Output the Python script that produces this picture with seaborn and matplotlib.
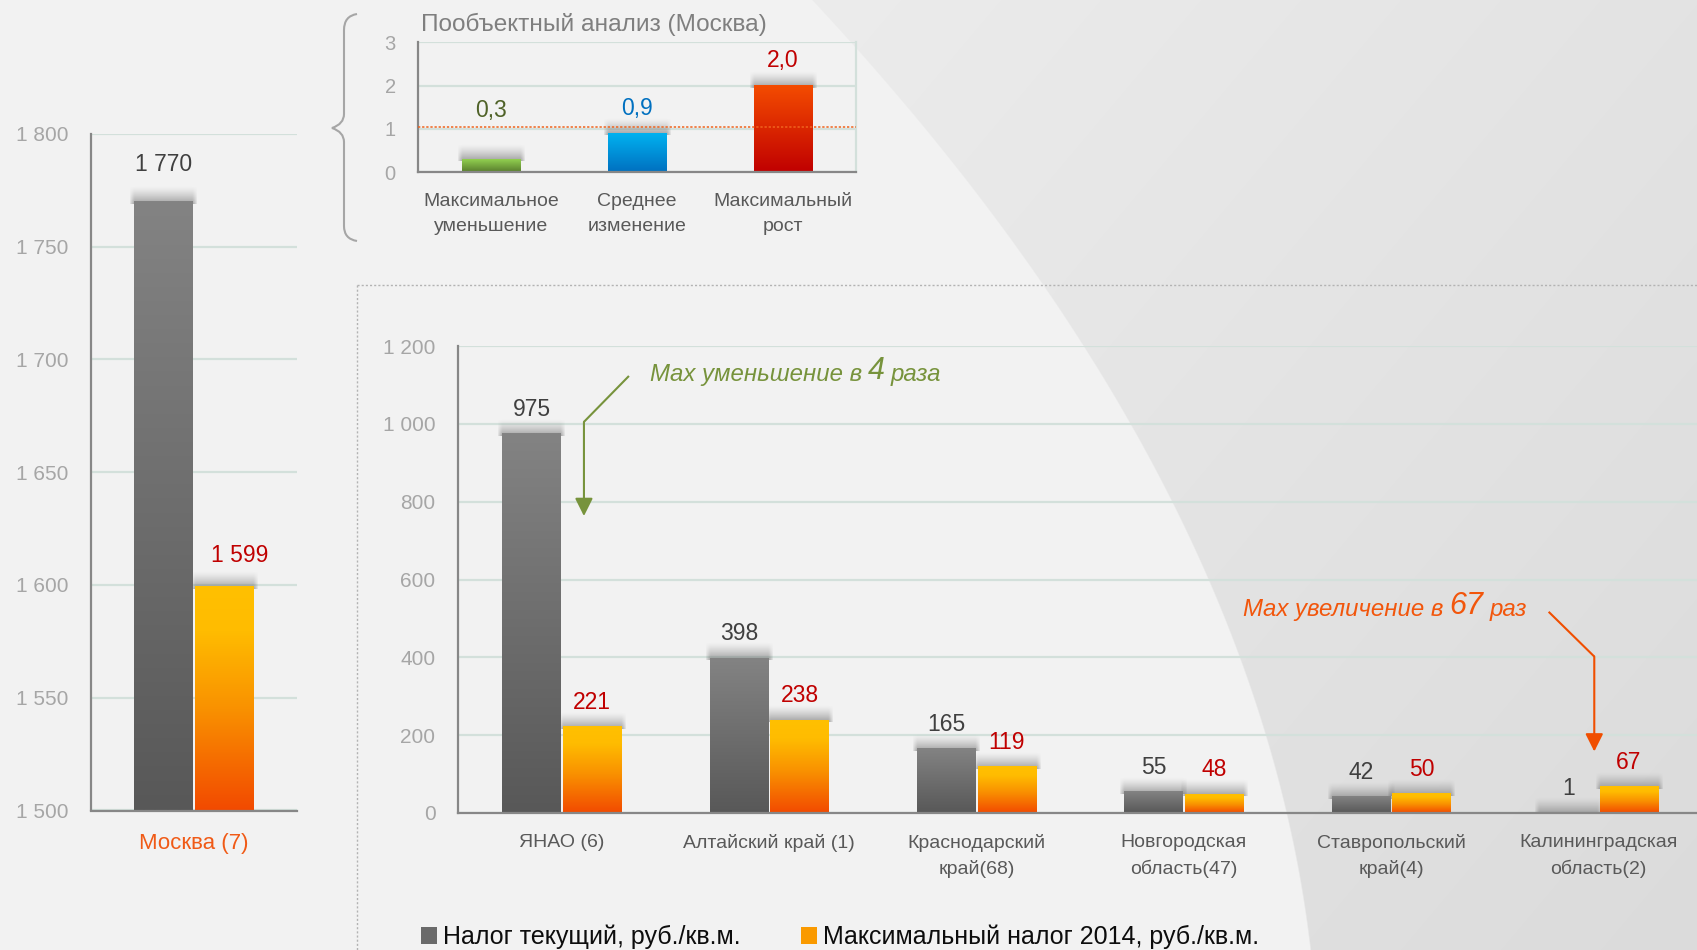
import numpy as np
import pandas as pd
import matplotlib
matplotlib.use("Agg")
import matplotlib.pyplot as plt
import seaborn as sns
from matplotlib.colors import LinearSegmentedColormap, to_rgb
from matplotlib.lines import Line2D
from matplotlib.patches import Patch, PathPatch
from matplotlib.path import Path
from matplotlib.ticker import FuncFormatter, MultipleLocator

# ---------------- data ----------------
series_names = ["Налог текущий, руб./кв.м.", "Максимальный налог 2014, руб./кв.м."]

moscow_category = ["Москва (7)"]
moscow_current = [1770]
moscow_max2014 = [1599]

regions = ["ЯНАО (6)", "Алтайский край (1)", "Краснодарский\nкрай(68)",
           "Новгородская\nобласть(47)", "Ставропольский\nкрай(4)",
           "Калининградская\nобласть(2)"]
region_current = [975, 398, 165, 55, 42, 1]
region_max2014 = [221, 238, 119, 48, 50, 67]

inset_title = "Пообъектный анализ (Москва)"
inset_categories = ["Максимальное\nуменьшение", "Среднее\nизменение", "Максимальный\nрост"]
inset_values = [0.3, 0.9, 2.0]
inset_reference = 1.03

note_decrease = ("Max уменьшение в", "4", "раза")
note_increase = ("Max увеличение в", "67", "раз")

# ---------------- style ----------------
sns.set_theme(style="white")
plt.rcParams["font.family"] = ["Liberation Sans", "DejaVu Sans"]

W, H, DPI = 1697, 950, 100
BG = "#f2f2f2"
SPINE = "#878787"
GRID = "#d3e0db"
TICKLAB = "#a6a6a6"
CATLAB = "#595959"
DARKLAB = "#404040"
REDLAB = "#c00000"
GREEN_NOTE = "#77933c"
ORANGE_NOTE = "#f2560c"

gray_cmap = LinearSegmentedColormap.from_list("g", [(0, "#585858"), (1, "#838383")])
orange_cmap = LinearSegmentedColormap.from_list(
    "o", [(0, "#f24a00"), (0.45, "#f99100"), (0.8, "#ffbc00"), (1, "#ffc000")])
green_cmap = LinearSegmentedColormap.from_list("gr", [(0, "#587d2d"), (1, "#92d050")])
blue_cmap = LinearSegmentedColormap.from_list("bl", [(0, "#0070c0"), (1, "#00b2f0")])
red_cmap = LinearSegmentedColormap.from_list("rd", [(0, "#c00000"), (1, "#f44c00")])

fig = plt.figure(figsize=(W / DPI, H / DPI), dpi=DPI)
fig.patch.set_facecolor(BG)


def fxp(px):
    return px / W


def fyp(py):
    return 1 - py / H


def rect(x0, y0, x1, y1):
    return [fxp(x0), fyp(y1), fxp(x1) - fxp(x0), fyp(y0) - fyp(y1)]


# ---------------- background ----------------
bg = fig.add_axes([0, 0, 1, 1], zorder=-5)
ys = np.arange(H)
coef = np.polyfit([0, 133, 285, 500, 813, 950], [817, 920, 1045, 1175, 1284, 1311], 2)
bx = np.polyval(coef, ys)
XX, YY = np.meshgrid(np.arange(W), ys)
mask = np.clip((XX - bx[:, None]) / 1.5 + 0.5, 0, 1)
t = np.clip(0.5 * YY / H + 0.5 * (XX - 900) / 800, 0, 1)
c_right = (1 - t)[..., None] * np.array(to_rgb("#ebebeb")) + t[..., None] * np.array(to_rgb("#dbdbdb"))
img = (1 - mask)[..., None] * np.array(to_rgb(BG)) + mask[..., None] * c_right
bg.imshow(img, aspect="auto", extent=[0, 1, 0, 1], interpolation="bilinear")
bg.set_axis_off()

# ---------------- helpers ----------------
def px_per_unit_y(ax):
    y0, y1 = ax.get_ylim()
    return ax.get_position().height * H / (y1 - y0)


def px_per_unit_x(ax):
    x0, x1 = ax.get_xlim()
    return ax.get_position().width * W / (x1 - x0)


def paint_bar(ax, p, cmap):
    x, w = p.get_x(), p.get_width()
    lo_lim, hi_lim = ax.get_ylim()
    lo = max(p.get_y(), lo_lim)
    hi = min(p.get_y() + p.get_height(), hi_lim)
    if hi <= lo:
        p.set_visible(False)
        return
    # soft shadow above the bar
    ky = px_per_unit_y(ax)
    kx = px_per_unit_x(ax)
    sh_h = 15 / ky
    pad = 5 / kx
    ny, nx = 40, 60
    fy_ = np.linspace(1, 0, ny) ** 1.3
    xs = np.linspace(0, 1, nx)
    fx_ = np.clip(np.minimum(xs, 1 - xs) * (w + 2 * pad) / pad, 0, 1) ** 0.8
    alpha = 0.6 * fy_[:, None] * fx_[None, :]
    rgba = np.zeros((ny, nx, 4))
    rgba[..., :3] = 0.42
    rgba[..., 3] = alpha
    ax.imshow(rgba, extent=[x - pad, x + w + pad, hi - 2 / ky, hi + sh_h],
              origin="lower", aspect="auto", zorder=1.5, interpolation="bilinear")
    grad = np.linspace(0, 1, 256).reshape(-1, 1)
    ax.imshow(grad, cmap=cmap, extent=[x, x + w, lo, hi], origin="lower",
              aspect="auto", zorder=2, interpolation="bilinear")
    p.set_visible(False)


def style_axes(ax, ylim, major):
    ax.set_facecolor("none")
    ax.set_ylim(*ylim)
    ax.yaxis.set_major_locator(MultipleLocator(major))
    ax.yaxis.grid(True, color=GRID, lw=1.6)
    ax.xaxis.grid(False)
    ax.set_axisbelow(True)
    for s in ["top", "right"]:
        ax.spines[s].set_visible(False)
    for s in ["left", "bottom"]:
        ax.spines[s].set_color(SPINE)
        ax.spines[s].set_linewidth(1.6)
        ax.spines[s].set_zorder(3)
    ax.set_xlabel("")
    ax.set_ylabel("")


def thousands(v, pos=None):
    return f"{int(round(v)):,}".replace(",", " ")


# ---------------- left chart: Moscow ----------------
ax_l = fig.add_axes(rect(90.7, 134, 296.5, 810.5))
df_l = pd.DataFrame({"cat": moscow_category * 2,
                     "series": [series_names[0]] * len(moscow_category) + [series_names[1]] * len(moscow_category),
                     "value": moscow_current + moscow_max2014})
sns.barplot(data=df_l, x="cat", y="value", hue="series", hue_order=series_names,
            order=moscow_category, palette=["#6e6e6e", "#fa9a00"], width=0.585, gap=0.03,
            saturation=1, legend=False, errorbar=None, ax=ax_l, linewidth=0)
style_axes(ax_l, (1500, 1800), 50)
ax_l.set_xlim(-0.5, len(moscow_category) - 0.5)
ax_l.yaxis.set_major_formatter(FuncFormatter(thousands))
ax_l.tick_params(axis="y", length=5, width=1.5, color=SPINE, labelsize=15, labelcolor=TICKLAB, pad=11)
ax_l.set_xticks(np.arange(-0.5, len(moscow_category)), labels=[""] * (len(moscow_category) + 1))
ax_l.set_xticks(np.arange(len(moscow_category)), labels=moscow_category, minor=True)
ax_l.tick_params(axis="x", which="major", length=5, width=1.5, color=SPINE, direction="out")
ax_l.tick_params(axis="x", which="minor", length=0, pad=16, labelsize=16, labelcolor="#f05a16")
left_offsets = [(0, 31), (16, 25)]
for p in list(ax_l.patches):
    xc = p.get_x() + p.get_width() / 2
    is_cur = xc < round(xc)
    val = p.get_height()
    paint_bar(ax_l, p, gray_cmap if is_cur else orange_cmap)
    ax_l.annotate(thousands(val), xy=(xc, val), xytext=left_offsets[0 if is_cur else 1],
                  textcoords="offset pixels", ha="center", va="baseline", fontsize=16.5,
                  color=DARKLAB if is_cur else REDLAB, zorder=5, annotation_clip=False)
ax_l.set_xlim(-0.5, len(moscow_category) - 0.5)
ax_l.set_ylim(1500, 1800)

# ---------------- inset chart ----------------
ax_i = fig.add_axes(rect(418, 42.3, 856, 172))
sns.barplot(x=inset_categories, y=inset_values, hue=inset_categories, order=inset_categories,
            palette=["#74a83e", "#0090d8", "#e02800"], width=0.40, saturation=1,
            legend=False, errorbar=None, ax=ax_i, linewidth=0)
style_axes(ax_i, (0, 3), 1)
ax_i.spines["right"].set_visible(True)
ax_i.spines["right"].set_color(GRID)
ax_i.spines["right"].set_linewidth(1.6)
ax_i.set_xlim(-0.5, len(inset_categories) - 0.5)
ax_i.tick_params(axis="y", length=5, width=1.5, color=SPINE, labelsize=14.5, labelcolor=TICKLAB, pad=11)
ax_i.set_xticks(np.arange(-0.5, len(inset_categories)), labels=[""] * (len(inset_categories) + 1))
ax_i.set_xticks(np.arange(len(inset_categories)), labels=inset_categories, minor=True)
ax_i.tick_params(axis="x", which="major", length=5, width=1.5, color=SPINE, direction="out")
ax_i.tick_params(axis="x", which="minor", length=0, pad=15.3, labelsize=14, labelcolor=CATLAB)
for lab in ax_i.get_xticklabels(minor=True):
    lab.set_linespacing(1.58)
ax_i.axhline(inset_reference, color="#f0641e", lw=1.1, ls=(0, (1.5, 1.2)), zorder=4)
inset_cmaps = [green_cmap, blue_cmap, red_cmap]
inset_colors = ["#4f6228", "#0070c0", "#c00000"]
inset_offsets = [42, 18, 19]
for p in sorted(list(ax_i.patches), key=lambda q: q.get_x()):
    xc = p.get_x() + p.get_width() / 2
    k = int(round(xc))
    val = p.get_height()
    paint_bar(ax_i, p, inset_cmaps[k])
    ax_i.annotate(f"{val:.1f}".replace(".", ","), xy=(xc, val), xytext=(0, inset_offsets[k]),
                  textcoords="offset pixels", ha="center", va="baseline", fontsize=16.5,
                  color=inset_colors[k], zorder=5)
ax_i.set_xlim(-0.5, len(inset_categories) - 0.5)
ax_i.set_ylim(0, 3)
fig.text(fxp(421), fyp(30.5), inset_title, fontsize=17.6, color="#7f7f7f", ha="left", va="baseline")

# ---------------- main chart ----------------
ax_m = fig.add_axes(rect(458.3, 346, 1702.3, 813))
df_m = pd.DataFrame({"region": regions * 2,
                     "series": [series_names[0]] * len(regions) + [series_names[1]] * len(regions),
                     "value": region_current + region_max2014})
sns.barplot(data=df_m, x="region", y="value", hue="series", hue_order=series_names, order=regions,
            palette=["#6e6e6e", "#fa9a00"], width=0.585, gap=0.03, saturation=1,
            legend=False, errorbar=None, ax=ax_m, linewidth=0)
style_axes(ax_m, (0, 1200), 200)
ax_m.set_xlim(-0.5, len(regions) - 0.5)
ax_m.yaxis.set_major_formatter(FuncFormatter(thousands))
ax_m.tick_params(axis="y", length=5, width=1.5, color=SPINE, labelsize=15, labelcolor=TICKLAB, pad=11.5)
ax_m.set_xticks(np.arange(-0.5, len(regions)), labels=[""] * (len(regions) + 1))
ax_m.set_xticks(np.arange(len(regions)), labels=regions, minor=True)
ax_m.tick_params(axis="x", which="major", length=5, width=1.5, color=SPINE, direction="out")
ax_m.tick_params(axis="x", which="minor", length=0, pad=15, labelsize=14, labelcolor=CATLAB)
for lab in ax_m.get_xticklabels(minor=True):
    lab.set_linespacing(1.6)
for p in list(ax_m.patches):
    xc = p.get_x() + p.get_width() / 2
    is_cur = xc < round(xc)
    val = p.get_height()
    paint_bar(ax_m, p, gray_cmap if is_cur else orange_cmap)
    ax_m.annotate(thousands(val), xy=(xc, val), xytext=(0, 18),
                  textcoords="offset pixels", ha="center", va="baseline", fontsize=16.5,
                  color=DARKLAB if is_cur else REDLAB, zorder=5)
ax_m.set_xlim(-0.5, len(regions) - 0.5)
ax_m.set_ylim(0, 1200)


def note(ax, x, y, parts, color):
    t1 = ax.text(x, y, parts[0], fontsize=17.3, style="italic", color=color,
                 ha="left", va="bottom", zorder=6)
    t2 = ax.annotate(parts[1], xy=(1, 0), xycoords=t1, xytext=(6, 0), textcoords="offset pixels",
                     fontsize=22, style="italic", color=color, ha="left", va="bottom", zorder=6)
    ax.annotate(parts[2], xy=(1, 0), xycoords=t2, xytext=(6, 0), textcoords="offset pixels",
                fontsize=17.3, style="italic", color=color, ha="left", va="bottom", zorder=6)


def bent_arrow(ax, start, corner, tip, color):
    ax.plot([start[0], corner[0]], [start[1], corner[1]], color=color, lw=1.5,
            solid_capstyle="butt", zorder=6)
    ax.annotate("", xy=tip, xytext=corner,
                arrowprops=dict(arrowstyle="-|>", color=color, lw=1.5, shrinkA=0, shrinkB=0,
                                mutation_scale=27), zorder=6)


note(ax_m, 0.423, 1098, note_decrease, GREEN_NOTE)
bent_arrow(ax_m, (0.323, 1123), (0.106, 1005), (0.106, 763), GREEN_NOTE)
note(ax_m, 3.286, 493, note_increase, ORANGE_NOTE)
bent_arrow(ax_m, (4.759, 517), (4.979, 402), (4.979, 158), "#f04e00")

# ---------------- decorations: dotted frame and brace ----------------
fig.add_artist(Line2D([fxp(357), fxp(357)], [fyp(285), fyp(950)], color="#b3b3b3", lw=1,
                      ls=(0, (1.5, 1.5)), transform=fig.transFigure))
fig.add_artist(Line2D([fxp(357), fxp(1697)], [fyp(285), fyp(285)], color="#b3b3b3", lw=1,
                      ls=(0, (1.5, 1.5)), transform=fig.transFigure))
brace_px = [(357, 14), (344, 16), (344, 30), (344, 114), (344, 124), (332, 128),
            (344, 132), (344, 142), (344, 226), (344, 239), (357, 241)]
codes = [Path.MOVETO, Path.CURVE3, Path.CURVE3, Path.LINETO, Path.CURVE3, Path.CURVE3,
         Path.CURVE3, Path.CURVE3, Path.LINETO, Path.CURVE3, Path.CURVE3]
brace = Path([(fxp(a), fyp(b)) for a, b in brace_px], codes)
fig.add_artist(PathPatch(brace, facecolor="none", edgecolor="#a6a6a6", lw=1.5,
                         transform=fig.transFigure))

# ---------------- legend ----------------
handles = [Patch(facecolor="#6a6a6a", edgecolor="none"), Patch(facecolor="#fa9a00", edgecolor="none")]
fig.legend(handles, series_names, loc="center left", bbox_to_anchor=(fxp(421), fyp(937)),
           frameon=False, fontsize=18, ncol=2, handlelength=0.64, handleheight=0.64,
           handletextpad=0.25, columnspacing=2.4, borderpad=0, borderaxespad=0,
           labelcolor="#0d0d0d")

fig.savefig("out.png", dpi=DPI, facecolor=fig.get_facecolor())
